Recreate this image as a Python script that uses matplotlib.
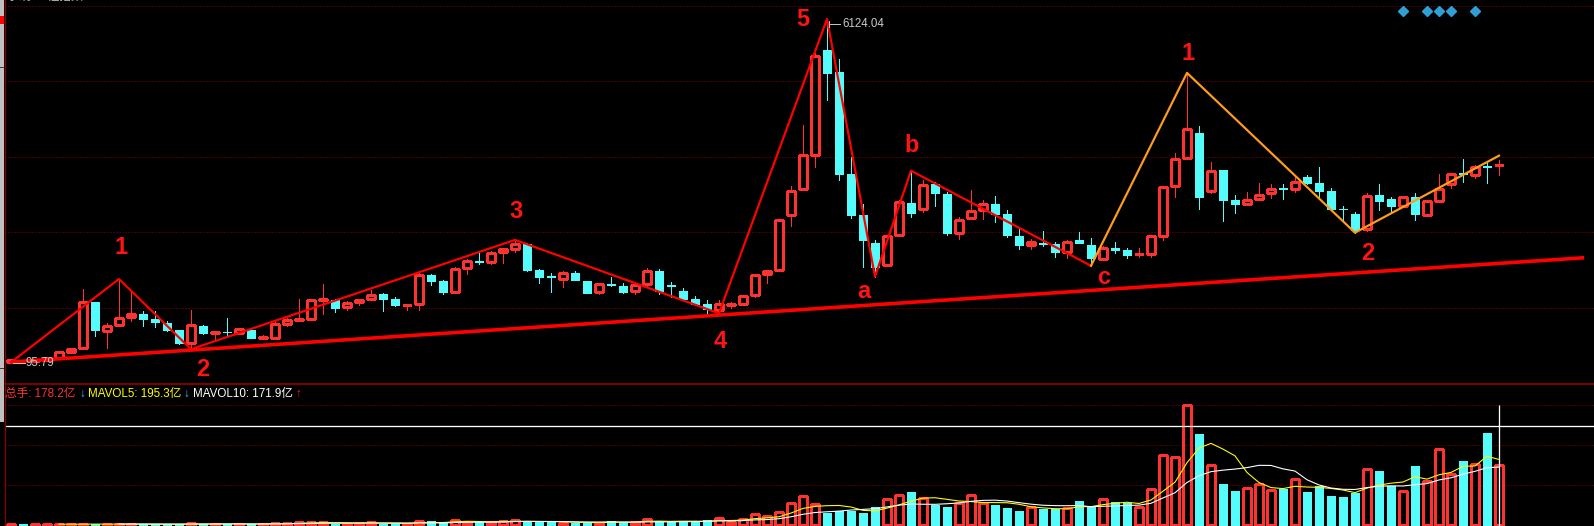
import matplotlib
matplotlib.use("Agg")
import matplotlib.pyplot as plt
from matplotlib.lines import Line2D
from matplotlib.patches import Rectangle
import numpy as np
import pandas as pd

# ---------------- data (quarterly candles, SSE composite) ----------------
opens = [96, 128, 120, 135, 175, 272, 354, 1149, 650, 755, 890, 950, 850, 793, 657,
         440, 733, 612, 625, 610, 657, 530, 530, 775, 845, 860, 1190, 1185, 1066, 1156,
         1203, 1300, 1203, 1100, 1127, 1625, 1520, 1330, 1750, 1870, 1855, 2030, 2080, 2170, 1713,
         1610, 1565, 1670, 1520, 1322, 1465, 1435, 1345, 1462, 1697, 1450, 1340, 1212, 1125, 1022,
         1110, 1125, 1272, 1640, 1724, 2675, 3145, 3742, 5585, 5192, 3397, 2675, 2196, 1810, 2336,
         2890, 2790, 3230, 3050, 2365, 2635, 2777, 2870, 2705, 2307, 2160, 2190, 2180, 2033, 2238,
         2160, 1917, 2110, 2062, 1995, 1990, 2320, 3190, 3690, 4130, 3110, 3470, 2940, 2880, 2965,
         3060, 3150, 3145, 3350, 3250, 3100, 2790, 2705, 2440, 3040, 2955, 2840, 3000, 2690, 2930,
         3220, 3425, 3390, 3535, 3555]
highs = [127.6, 135, 137, 180, 292, 345, 1380, 1150, 793, 1559, 1370, 990, 990, 820, 660,
         1010, 750, 625, 880, 700, 690, 580, 803, 870, 1214, 1200, 1465, 1214, 1180, 1215,
         1360, 1310, 1240, 1110, 1700, 1640, 1540, 1770, 1915, 2050, 2050, 2090, 2245, 2190, 1740,
         1660, 1700, 1700, 1530, 1480, 1600, 1483, 1483, 1750, 1729, 1510, 1400, 1260, 1197, 1185,
         1150, 1265, 1640, 1715, 2620, 3200, 4258, 5520, 6124.04, 5430, 3705, 2880, 2240, 2320, 2950,
         3460, 3297, 3267, 3091, 2652, 3121, 2945, 3016, 2770, 2476, 2255, 2400, 2214, 2243, 2378,
         2270, 2140, 2203, 2108, 2097, 2320, 3200, 3776, 5178, 4245, 3608, 3480, 3033, 3086, 3239,
         3226, 3226, 3355, 3385, 3520, 3151, 2845, 2730, 3063, 3226, 2993, 3000, 3063, 2945, 3402,
         3425, 3660, 3560, 3590, 3650]
lows = [95.79, 117, 105, 130, 170, 265, 345, 560, 350, 740, 822, 735, 720, 640, 420,
        326, 600, 463, 540, 600, 520, 520, 520, 740, 830, 850, 950, 980, 1020, 1110,
        1190, 1000, 1080, 1020, 1020, 1450, 1290, 1320, 1650, 1830, 1830, 1840, 2030, 1700, 1480,
        1339, 1420, 1540, 1310, 1300, 1430, 1318, 1290, 1420, 1300, 1245, 1190, 1100, 970, 956,
        1050, 1120, 1240, 1495, 1700, 2484, 3115, 3520, 4710, 3300, 2625, 1768, 1600, 1800, 2310,
        2639, 2740, 2846, 2330, 2260, 2624, 2612, 2565, 2300, 2080, 2090, 2140, 1950, 1920, 2185,
        1790, 1905, 2020, 1933, 1950, 1950, 2240, 3003, 3690, 2788, 3074, 2582, 2723, 2858, 2958,
        2975, 2963, 3086, 3226, 2990, 2770, 2595, 2372, 2401, 2770, 2712, 2830, 2594, 2664, 2916,
        3162, 3267, 3326, 3250, 3387]
closes = [127.6, 120, 135, 178, 285, 338, 1149, 657, 735, 880, 950, 850, 803, 657, 433,
          745, 610, 620, 620, 680, 530, 545, 763, 833, 860, 1185, 1200, 1055, 1143, 1197,
          1285, 1203, 1098, 1103, 1630, 1520, 1325, 1740, 1866, 1860, 2020, 2080, 2170, 1713, 1596,
          1600, 1670, 1547, 1315, 1462, 1455, 1335, 1450, 1697, 1350, 1440, 1212, 1125, 1038, 1115,
          1115, 1255, 1625, 1697, 2600, 3110, 3742, 5470, 5180, 3408, 2690, 2248, 1770, 2307, 2910,
          2715, 3213, 3066, 2365, 2590, 2745, 2870, 2705, 2323, 2160, 2200, 2180, 2033, 2210, 2190,
          1932, 2110, 2060, 1975, 2000, 2307, 3170, 3670, 4200, 3000, 3460, 2950, 2870, 2940, 3040,
          3145, 3140, 3270, 3240, 3110, 2780, 2780, 2420, 3015, 2930, 2840, 2990, 2705, 2920, 3145,
          3400, 3410, 3520, 3525, 3562]
# quarterly volume, 亿手
volumes = [2.5, 2.5, 2.5, 2.5, 2.5, 2.5, 3, 3, 2.5, 3, 3, 2.5, 2.5, 2, 2.5,
           5, 3, 2.5, 4, 3, 3, 3, 5, 5, 9, 8, 9, 4, 4, 5, 9, 4, 3.5, 3, 12, 12, 6, 15, 10, 9, 8, 11,
           15, 11, 8, 8, 7, 7, 7, 7, 12, 8, 10, 17, 11, 8, 11, 10, 15, 21, 10, 17,
           32, 26, 38, 65, 86, 62, 37, 41, 42, 36, 54, 78, 90, 98.5, 80, 60, 54, 65, 90, 65,
           60, 52, 42, 53, 48, 48, 51, 72, 55,
           77.6, 68.7, 65.7, 53.7, 107.5, 208, 202, 357, 272, 178, 122, 101.5, 109.5, 121.5, 103.5,
           106.5, 136, 98.5, 117, 86.6, 83.6, 96.5, 166, 161, 116.4, 100.5, 176, 130, 226, 151,
           191, 182, 274.6, 178.2]

# wave annotations (candle index, price)
wave_idx = [0, 9, 15, 42, 59, 68, 72, 75, 90]
wave_val = [95.79, 1559, 326, 2245, 956, 6124.04, 1600, 3460, 1790]
new_idx = [90, 98, 112, 124]
new_val = [1790, 5178, 2372, 3724]
support_idx = [0, 131.1]
support_val = [101, 1932]
signal_idx = [116, 118, 119, 120, 122]
legend_vals = {"总手": 178.2, "MAVOL5": 195.3, "MAVOL10": 171.9}

# ---------------- style / layout ----------------
W, H = 1594, 526
PX = 0.72
RED = "#ff3232"
CYAN = "#54fcfc"
GRID = "#8c0000"
V_LOW, Y_LOW, SLOPE = 95.79, 362.3, 0.056949
VK = 357.7 / 120.0


def vpx(y):
    return V_LOW + (Y_LOW - y) / SLOPE


def fx(x):
    return x / W


def fy(y):
    return 1 - y / H


fig = plt.figure(figsize=(W / 100, H / 100), dpi=100, facecolor="#000000")
ax = fig.add_axes([fx(5), fy(384), (W - 5) / W, 384 / H])
axv = fig.add_axes([fx(5), 0, (W - 5) / W, 142 / H])
for a in (ax, axv):
    a.set_facecolor("#000000")
    for s in a.spines.values():
        s.set_visible(False)
    a.set_xticks([])
    a.set_yticks([])
    a.set_xlim((5 - 11) / 12, (W - 11) / 12)
ax.set_ylim(vpx(384), vpx(0))
axv.set_ylim(-1 * VK, (525 - 384) * VK)

# grids
for y in (6, 81, 157, 232, 308):
    ax.axhline(vpx(y), color=GRID, lw=PX, ls=(0, (1, 2)), zorder=0)
for y in (405, 445, 485):
    axv.axhline((525 - y) * VK, color=GRID, lw=PX, ls=(0, (1, 2)), zorder=0)

# candles
O = np.array(opens, float); Hh = np.array(highs, float)
L = np.array(lows, float); C = np.array(closes, float)
x = np.arange(len(O))
up = C >= O
top = np.maximum(O, C); bot = np.minimum(O, C)
hgt = np.maximum(top - bot, 1.0)
ax.vlines(x[up], top[up], Hh[up], color=RED, lw=PX, antialiased=False, zorder=2)
ax.vlines(x[up], L[up], bot[up], color=RED, lw=PX, antialiased=False, zorder=2)
ax.vlines(x[~up], L[~up], Hh[~up], color=CYAN, lw=PX, antialiased=False, zorder=2)
ax.bar(x[up], hgt[up], bottom=bot[up], width=0.62, facecolor="none", edgecolor=RED,
       lw=1.35 * PX, antialiased=False, zorder=3)
ax.bar(x[~up], hgt[~up], bottom=bot[~up], width=0.64, facecolor=CYAN, edgecolor=CYAN,
       lw=PX, antialiased=False, zorder=3)

# wave lines
ax.plot(support_idx, support_val, color="#ff0000", lw=3.6 * PX, zorder=4, solid_capstyle="butt")
ax.plot(wave_idx, wave_val, color="#ff0000", lw=2.2 * PX, zorder=5)
ax.plot(new_idx, new_val, color="#ff9c1a", lw=2.2 * PX, zorder=5)
ax.plot(signal_idx, [vpx(10.7)] * len(signal_idx), ls="none", marker="D", ms=5.5,
        color="#2f9fd6", zorder=5)

lab_font = dict(color="#ff1414", fontsize=17, fontweight="bold", family="Liberation Sans",
                ha="center", va="center", zorder=6)
labels = [("1", 121, 247), ("2", 203, 369), ("3", 516, 212), ("4", 720, 341),
          ("5", 803, 19), ("a", 864, 292), ("b", 912, 146), ("c", 1104, 277),
          ("1", 1188, 53), ("2", 1368, 254)]
for t, px_, py_ in labels:
    fig.text(fx(px_), fy(py_), t, **lab_font)

# extreme price tags
fig.add_artist(Line2D([fx(829), fx(840)], [fy(24), fy(24)], color="#c0c0c0", lw=PX))
fig.add_artist(Line2D([fx(829), fx(829)], [fy(21), fy(27)], color="#c0c0c0", lw=PX))
fig.text(fx(842), fy(24), f"{max(highs):.2f}", color="#c8c8c8", fontsize=8.3,
         family="Liberation Sans", va="center", ha="left")
fig.add_artist(Line2D([fx(13), fx(25)], [fy(363), fy(363)], color="#c0c0c0", lw=PX, zorder=1))
fig.text(fx(26), fy(363), f"{min(lows):.2f}", color="#c8c8c8", fontsize=8.3,
         family="Liberation Sans", va="center", ha="left", zorder=1)

# volume
V = np.array(volumes, float)
vh = np.maximum(V, 0.4)
axv.bar(x[up], vh[up], width=0.64, facecolor="none", edgecolor=RED, lw=1.35 * PX,
        antialiased=False, zorder=3)
axv.bar(x[~up], vh[~up], width=0.66, facecolor=CYAN, edgecolor=CYAN, lw=PX,
        antialiased=False, zorder=3)
s = pd.Series(V)
axv.plot(x, s.rolling(5).mean(), color="#ffff00", lw=PX * 1.1, zorder=4)
axv.plot(x, s.rolling(10).mean(), color="#ffffff", lw=PX * 1.1, zorder=4)
axv.axhline((525 - 426) * VK, color="#ffffff", lw=1.3 * PX, zorder=5)
axv.vlines([len(V) - 1], -1 * VK, (525 - 405) * VK, color="#ffffff", lw=1.3 * PX, zorder=5)

# legend of volume panel
lf = dict(fontsize=8.4, family=["Liberation Sans", "Noto Sans CJK SC"], va="center", ha="left")
fig.text(fx(5), fy(393.5), f"总手: {legend_vals['总手']:.1f}亿", color=RED, **lf)
fig.text(fx(79), fy(393.5), "↓", color="#3cc0e8", fontweight="bold", **lf)
fig.text(fx(88), fy(393.5), f"MAVOL5: {legend_vals['MAVOL5']:.1f}亿", color="#ffff00", **lf)
fig.text(fx(183), fy(393.5), "↓", color="#3cc0e8", fontweight="bold", **lf)
fig.text(fx(193), fy(393.5), f"MAVOL10: {legend_vals['MAVOL10']:.1f}亿", color="#ffffff", **lf)
fig.text(fx(295), fy(393.5), "↑", color="#ff2020", fontweight="bold", **lf)

# frame lines
fig.add_artist(Line2D([fx(4.5), fx(W)], [fy(384), fy(384)], color="#a00000", lw=1.5 * PX))
fig.add_artist(Line2D([fx(4.5), fx(4.5)], [0, 1], color="#8b0000", lw=1.3 * PX))
fig.add_artist(Rectangle((0, fy(422)), fx(3.5), 422 / H, transform=fig.transFigure,
                         color="#c0c0c0", lw=0))
fig.add_artist(Rectangle((0, fy(24)), fx(3.5), 8 / H, transform=fig.transFigure,
                         color="#ff0000", lw=0))
for yy in (67, 368):
    fig.add_artist(Rectangle((0, fy(yy + 1)), fx(3.5), 1.5 / H, transform=fig.transFigure,
                             color="#404040", lw=0))

# title (top edge, mostly cut off as in the source screenshot)
fig.text(fx(7), fy(3), "季线  上证指数", color="#c8c8c8", fontsize=8.5,
         family=["Noto Sans CJK SC", "DejaVu Sans"], va="bottom", ha="left")

fig.savefig("out.png", dpi=100, facecolor="#000000")
